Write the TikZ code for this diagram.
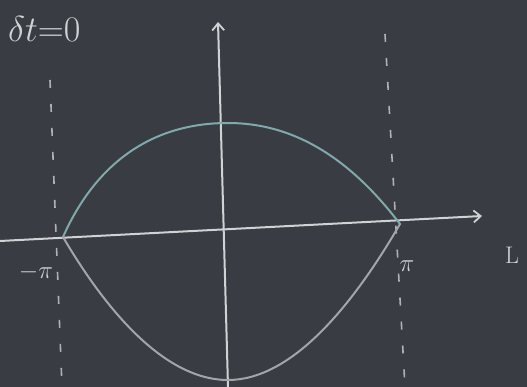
\documentclass[tikz,border=0pt]{standalone}
\usetikzlibrary{arrows.meta}
\begin{document}
\begin{tikzpicture}[x=1pt,y=-1pt,
  chalk/.style={line width=2pt,line cap=round},
  axis/.style={chalk,draw=chalkwhite,-{Straight Barb[length=7pt,width=12pt,line width=1.8pt]}},
  guide/.style={line width=1.6pt,draw=chalkwhite!85!black,dash pattern=on 8pt off 16pt},
  lbl/.style={text=chalkwhite,font=\fontsize{24}{28}\selectfont,inner sep=0pt}]
\definecolor{board}{HTML}{3A3C44}
\definecolor{chalkwhite}{HTML}{D0D2D4}
\definecolor{teal}{HTML}{7FA9AB}
\definecolor{grayc}{HTML}{A4A5A8}
\useasboundingbox (0,0) rectangle (527,387);
\fill[board] (0,0) rectangle (527,387);
% coordinates
\coordinate (xs) at (0,241);
\coordinate (xe) at (482,216);
\coordinate (ys) at (228,387);
\coordinate (ye) at (218,22);
\coordinate (A) at (63,237);
\coordinate (B) at (400,224);
\coordinate (top) at (228,123);
\coordinate (bot) at (228,380);
\coordinate (d1s) at (50,80);
\coordinate (d1e) at (62,387);
\coordinate (d2s) at (385,34);
\coordinate (d2e) at (405,387);
% dashed lines
\draw[guide] (d1s) -- (d1e);
\draw[guide] (d2s) -- (d2e);
% axes
\draw[axis] (xs) -- (xe);
\draw[axis] (ys) -- (ye);
% curves
\draw[chalk,draw=teal] (A) .. controls (95,165) and (150,123) .. (top) .. controls (300,123) and (355,165) .. (B);
\draw[chalk,draw=grayc] (A) .. controls (100,300) and (160,380) .. (bot) .. controls (290,380) and (350,310) .. (B);
% labels
\node[lbl,anchor=west] (dt) at (8,29) {\scalebox{1.45}{$\delta t{=}0$}};
\node[lbl] (mpi) at (36,272) {$-\pi$};
\node[lbl] (pi) at (407,266) {$\pi$};
\node[lbl,anchor=west] (L) at (505,255) {L};
\end{tikzpicture}
\end{document}
